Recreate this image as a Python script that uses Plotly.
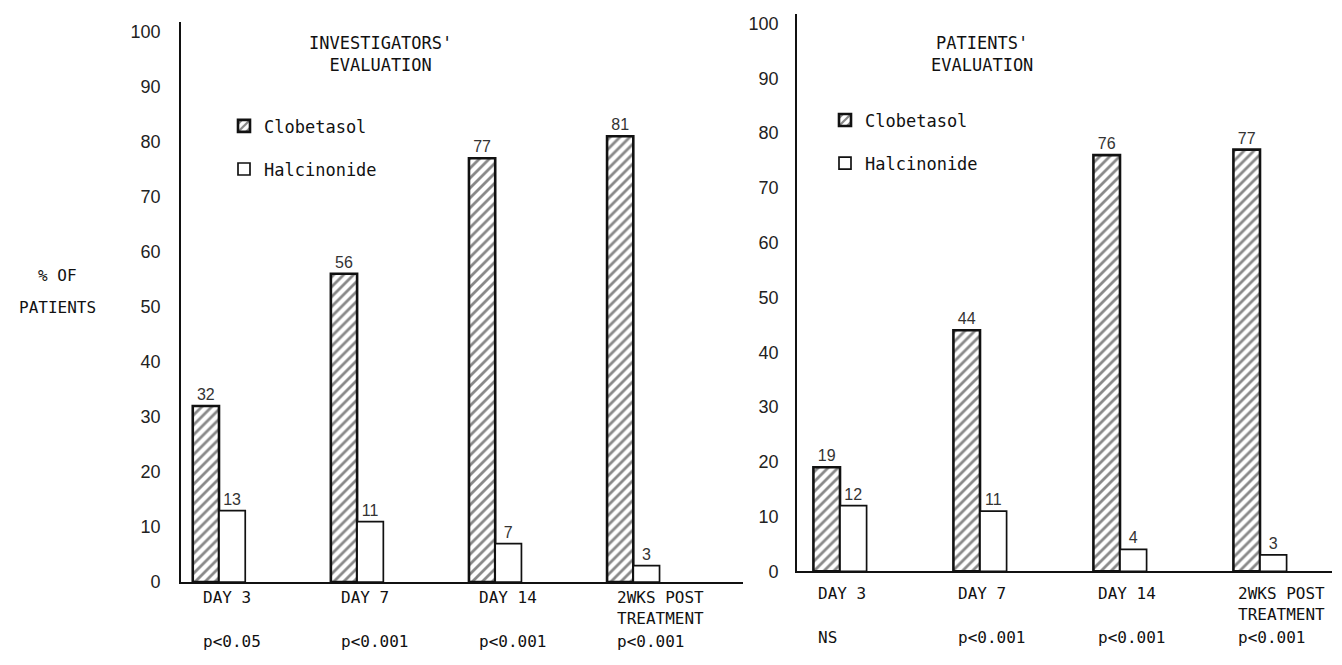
import plotly.graph_objects as go

# ---------------- data ----------------
categories = ["DAY 3", "DAY 7", "DAY 14", "2WKS POST<br>TREATMENT"]
inv_clobetasol = [32, 56, 77, 81]
inv_halcinonide = [13, 11, 7, 3]
inv_pvalues = ["p<0.05", "p<0.001", "p<0.001", "p<0.001"]
pat_clobetasol = [19, 44, 76, 77]
pat_halcinonide = [12, 11, 4, 3]
pat_pvalues = ["NS", "p<0.001", "p<0.001", "p<0.001"]
y_ticks = [0, 10, 20, 30, 40, 50, 60, 70, 80, 90, 100]
panel_titles = ["INVESTIGATORS'<br>EVALUATION", "PATIENTS'<br>EVALUATION"]
series_names = ["Clobetasol", "Halcinonide"]
y_title_lines = ["% OF", "PATIENTS"]

# ---------------- layout helpers ----------------
W, H = 1342, 665
MONO = "DejaVu Sans Mono, Liberation Mono, monospace"
SANS = "Liberation Sans, Arial, sans-serif"
INK = "#111111"

def px_x(p):
    return p / W

def px_y(p):
    return 1 - p / H

idx = list(range(len(categories)))

fig = go.Figure()

def add_panel(clob, halc, xa, ya, legend):
    fig.add_trace(go.Bar(
        x=idx, y=clob, name=series_names[0], xaxis=xa, yaxis=ya,
        legend=legend, legendgroup=legend + "a",
        marker=dict(color="white", line=dict(color=INK, width=2.6),
                    pattern=dict(shape="/", fgcolor=INK, bgcolor="white",
                                 size=7, solidity=0.4)),
        text=clob, texttemplate="%{y}", textposition="outside",
        constraintext="none", cliponaxis=False,
        textfont=dict(family=SANS, size=16, color="#333"),
    ))
    fig.add_trace(go.Bar(
        x=idx, y=halc, name=series_names[1], xaxis=xa, yaxis=ya,
        legend=legend, legendgroup=legend + "b",
        marker=dict(color="white", line=dict(color=INK, width=1.7)),
        text=halc, texttemplate="%{y}", textposition="outside",
        constraintext="none", cliponaxis=False,
        textfont=dict(family=SANS, size=16, color="#333"),
    ))

add_panel(inv_clobetasol, inv_halcinonide, "x", "y", "legend")
add_panel(pat_clobetasol, pat_halcinonide, "x2", "y2", "legend2")

# group centres (px) and spacing for each panel
L_c0, L_step = 219, 138.1
R_c0, R_step = 840, 140.0

axis_common = dict(showline=True, linecolor=INK, linewidth=1.6, ticks="",
                   showgrid=False, zeroline=False)

fig.update_layout(
    xaxis=dict(domain=[px_x(181), px_x(743)], anchor="y",
               range=[(181 - L_c0) / L_step, (743 - L_c0) / L_step],
               showticklabels=False, **axis_common),
    yaxis=dict(domain=[px_y(591), px_y(22)], anchor="x",
               range=[0, 101.8], tickvals=y_ticks, ticklabelstandoff=15,
               tickfont=dict(family=SANS, size=18, color="#222"),
               **axis_common),
    xaxis2=dict(domain=[px_x(797), px_x(1332)], anchor="y2",
                range=[(797 - R_c0) / R_step, (1332 - R_c0) / R_step],
                showticklabels=False, **axis_common),
    yaxis2=dict(domain=[px_y(580), px_y(14)], anchor="x2",
                range=[0, 101.8], tickvals=y_ticks, ticklabelstandoff=13,
                tickfont=dict(family=SANS, size=18, color="#222"),
                **axis_common),
)

fig.update_layout(
    width=W, height=H,
    margin=dict(l=0, r=0, t=0, b=0),
    paper_bgcolor="white", plot_bgcolor="white",
    barmode="group", bargap=0.62, bargroupgap=0,
    showlegend=True,
    legend=dict(x=px_x(224), y=px_y(110), xanchor="left", yanchor="top",
                font=dict(family=MONO, size=17, color=INK),
                bgcolor="rgba(0,0,0,0)", tracegroupgap=18, itemwidth=30),
    legend2=dict(x=px_x(825), y=px_y(104), xanchor="left", yanchor="top",
                 font=dict(family=MONO, size=17, color=INK),
                 bgcolor="rgba(0,0,0,0)", tracegroupgap=18, itemwidth=30),
)

annotations = []
# panel titles
for title, xc in zip(panel_titles, [380, 982]):
    annotations.append(dict(text=title, xref="paper", yref="paper",
                            x=px_x(xc), y=px_y(55), xanchor="center",
                            yanchor="middle", showarrow=False,
                            font=dict(family=MONO, size=17, color=INK)))
# y-axis label
for line, yc in zip(y_title_lines, [280, 312]):
    annotations.append(dict(text=line, xref="paper", yref="paper",
                            x=px_x(57), y=px_y(yc), xanchor="center",
                            yanchor="middle", showarrow=False,
                            font=dict(family=MONO, size=16, color=INK)))
# category labels and p-values
for xa, pv, ytop, yp, xs in [("x", inv_pvalues, 595, 651, -18),
                             ("x2", pat_pvalues, 591, 647, -24)]:
    for i, (cat, p) in enumerate(zip(categories, pv)):
        annotations.append(dict(text=cat, xref=xa, yref="paper", x=i,
                                y=px_y(ytop), xanchor="left", yanchor="top",
                                align="left", xshift=xs, showarrow=False,
                                font=dict(family=MONO, size=16, color=INK)))
        annotations.append(dict(text=p, xref=xa, yref="paper", x=i,
                                y=px_y(yp), xanchor="left", yanchor="middle",
                                align="left", xshift=xs, showarrow=False,
                                font=dict(family=MONO, size=16, color=INK)))
fig.update_layout(annotations=annotations)

fig.write_html("out.html", config={"displayModeBar": False},
               post_script="document.body.style.margin='0';")
